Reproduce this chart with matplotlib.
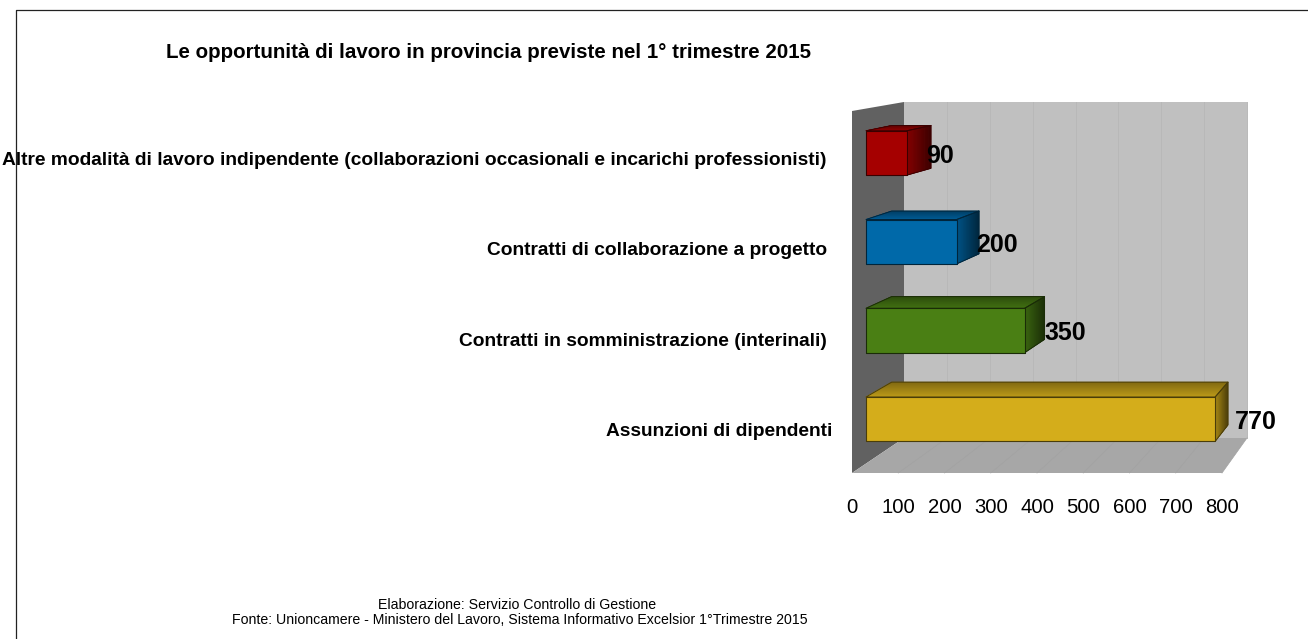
import matplotlib
matplotlib.use("Agg")
import matplotlib.pyplot as plt
from matplotlib.lines import Line2D
from matplotlib.patches import Polygon
from matplotlib.transforms import ScaledTranslation
import matplotlib.colors as mc

plt.rcParams['font.family'] = ['Liberation Sans', 'DejaVu Sans']

# --- data ---
categories = ["Assunzioni di dipendenti",
              "Contratti in somministrazione (interinali)",
              "Contratti di collaborazione a progetto",
              "Altre modalità di lavoro indipendente (collaborazioni occasionali e incarichi professionisti)"]
values = [770, 350, 200, 90]
colors = ["#D4AD1B", "#4A7F14", "#0069A9", "#A50000"]
x_ticks = [0, 100, 200, 300, 400, 500, 600, 700, 800]
title = "Le opportunità di lavoro in provincia previste nel 1° trimestre 2015"
foot1 = "Elaborazione: Servizio Controllo di Gestione"
foot2 = "Fonte: Unioncamere - Ministero del Lavoro, Sistema Informativo Excelsior 1°Trimestre 2015"

W, H = 1308, 639
fig = plt.figure(figsize=(W / 100, H / 100), dpi=100, facecolor="white")

# axes = front edge of the 3D box: x 852..1222 px, y 473..111 px
L, R, B, T = 852, 1222, 473, 111
ax = fig.add_axes([L / W, 1 - B / H, (R - L) / W, (B - T) / H])
ax.set_xlim(0, 800)
ax.set_ylim(0, 4)
ax.patch.set_visible(False)
for s in ax.spines.values():
    s.set_visible(False)

# perspective projection of (value, row, depth) into axes data coordinates
DX = (904 - L) * 800 / (R - L)
SX = ((1247 - 904) / 800) / ((R - L) / 800)
DY = (B - 438) * 4 / (B - T)
ST = (438 - 102) / (B - T)


def proj(v, y, d):
    return (DX * d + v * (1 - (1 - SX) * d),
            DY * d + y * (1 - (1 - ST) * d))


def face(pts, color, z, ec="none", lw=0):
    ax.add_patch(Polygon([proj(*p) for p in pts], closed=True, facecolor=color,
                         edgecolor=ec, lw=lw, zorder=z, clip_on=False, joinstyle="round"))


def shade(color, f):
    r, g, b = mc.to_rgb(color)
    return (r * f, g * f, b * f)


# walls and floor
face([(0, 0, 0), (0, 4, 0), (0, 4, 1), (0, 0, 1)], "#616161", 1)
face([(0, 0, 1), (0, 4, 1), (800, 4, 1), (800, 0, 1)], "#C0C0C0", 1)
face([(0, 0, 0), (0, 0, 1), (800, 0, 1), (800, 0, 0)], "#A7A7A7", 1)
for t in x_ticks[1:]:
    ax.plot(*zip(proj(t, 0, 1), proj(t, 4, 1)), color="#B8B8B8", lw=0.7, zorder=2, clip_on=False)
    ax.plot(*zip(proj(t, 0, 0), proj(t, 0, 1)), color="#A2A2A2", lw=0.5, zorder=2, clip_on=False)

# bars
D0, D1 = 0.27, 0.763
BAR = 0.5
N = 30
for i, (v, c) in enumerate(zip(values, colors)):
    y0, y1 = i + 0.5 - BAR / 2, i + 0.5 + BAR / 2
    z = 10 + (4 - i)
    for k in range(N):
        a = D0 + (D1 - D0) * k / N
        b = D0 + (D1 - D0) * (k + 1) / N
        t = k / (N - 1)
        top_c = shade(c, 0.90 - 0.28 * t)
        side_c = shade(c, 0.80 - 0.42 * t)
        face([(0, y1, a), (v, y1, a), (v, y1, b), (0, y1, b)], top_c, z, ec=top_c, lw=0.5)
        face([(v, y0, a), (v, y1, a), (v, y1, b), (v, y0, b)], side_c, z, ec=side_c, lw=0.5)
    edge = shade(c, 0.35)
    face([(0, y1, D0), (v, y1, D0), (v, y1, D1), (0, y1, D1)], "none", z + 0.1, ec=edge, lw=0.7)
    face([(v, y0, D0), (v, y1, D0), (v, y1, D1), (v, y0, D1)], "none", z + 0.1, ec=edge, lw=0.7)
    face([(0, y0, D0), (v, y0, D0), (v, y1, D0), (0, y1, D0)], c, z + 0.2, ec=edge, lw=0.8)
    ax.annotate(str(v), xy=proj(v, i + 0.5, D0), xytext=(19.5 * 0.72, -3 * 0.72),
                textcoords="offset points", ha="left", va="center",
                fontsize=18, fontweight="bold", color="black", zorder=30, annotation_clip=False)

# axes ticks
ax.set_xticks(x_ticks)
ax.set_xticklabels([str(t) for t in x_ticks], fontsize=14.6, color="black")
ax.tick_params(axis="x", length=0, pad=18)
ax.set_yticks([i + 0.5 for i in range(len(categories))])
ax.set_yticklabels(categories, fontsize=13.75, fontweight="bold", color="black")
ax.tick_params(axis="y", length=0, pad=18)
ax.yaxis.get_major_ticks()[0].set_pad(14)
for lbl in ax.get_yticklabels():
    lbl.set_transform(lbl.get_transform() + ScaledTranslation(0, -1.8 / 100, fig.dpi_scale_trans))

# outer frame
fig.add_artist(Line2D([16 / W, 16 / W, 1], [0, 1 - 10 / H, 1 - 10 / H], color="#222222", lw=0.9))

# texts
fig.text(488.5 / W, 1 - 52.5 / H, title, ha="center", va="center", fontsize=14.75, fontweight="bold", color="black")
fig.text(517.5 / W, 1 - 605 / H, foot1, ha="center", va="center", fontsize=10.2, color="black")
fig.text(519.5 / W, 1 - 620 / H, foot2, ha="center", va="center", fontsize=10.2, color="black")

fig.savefig("out.png", dpi=100, facecolor="white")
